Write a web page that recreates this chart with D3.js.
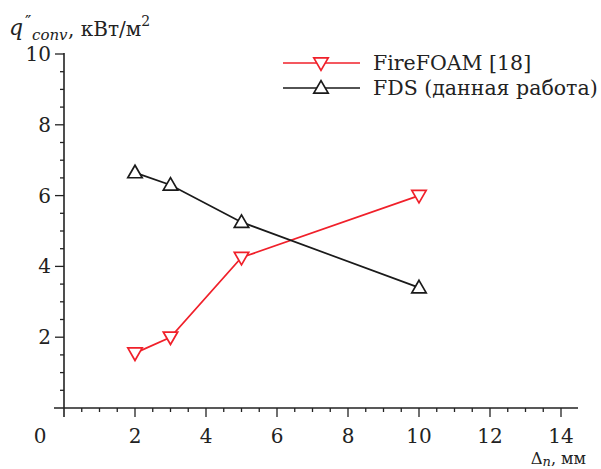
<!DOCTYPE html>
<html>
<head>
<meta charset="utf-8">
<script src="https://cdn.jsdelivr.net/npm/d3@7"></script>
<style>
  html, body { margin: 0; padding: 0; background: #fff; }
  svg { display: block; }
</style>
</head>
<body>
<svg id="chart" width="601" height="469" font-family="'DejaVu Serif', serif" fill="#222"></svg>
<script>
// Mesh size, mm
const meshFireFOAM = [2, 3, 5, 10];
const qFireFOAM = [1.55, 2.0, 4.25, 6.0];
const meshFDS = [2, 3, 5, 10];
const qFDS = [6.65, 6.3, 5.25, 3.4];

const xTicks = [2, 4, 6, 8, 10, 12, 14];
const yTicks = [2, 4, 6, 8, 10];
const seriesNames = ["FireFOAM [18]", "FDS (данная работа)"];

const svg = d3.select("#chart");
const x = d3.scaleLinear().domain([0, 14]).range([64, 561]);
const y = d3.scaleLinear().domain([0, 10]).range([408, 54]);

const ax = svg.append("g").attr("stroke", "#222").attr("fill", "none");

// axis lines
ax.append("line").attr("x1", 54).attr("x2", 578).attr("y1", y(0)).attr("y2", y(0)).attr("stroke-width", 1.6);
ax.append("line").attr("x1", x(0)).attr("x2", x(0)).attr("y1", y(10) - 1).attr("y2", y(0) + 9).attr("stroke-width", 1.6);

// x ticks (major + minor every 0.5)
d3.range(0.5, 14.01, 0.5).forEach(v => {
  const major = Math.abs(v % 2) < 1e-9;
  ax.append("line").attr("x1", x(v)).attr("x2", x(v))
    .attr("y1", y(0)).attr("y2", y(0) + (major ? 9 : 4)).attr("stroke-width", 1.3);
});
// y ticks
d3.range(0.5, 10.01, 0.5).forEach(v => {
  const major = Math.abs(v % 2) < 1e-9;
  ax.append("line").attr("x1", x(0) - (major ? 9 : 4)).attr("x2", x(0))
    .attr("y1", y(v)).attr("y2", y(v)).attr("stroke-width", 1.3);
});

// tick labels
svg.append("g").selectAll("text").data(xTicks).join("text")
  .attr("x", d => x(d)).attr("y", 443).attr("text-anchor", "middle")
  .attr("font-size", 20).text(d => d);
svg.append("text").attr("x", 40).attr("y", 443).attr("text-anchor", "middle")
  .attr("font-size", 20).text("0");
svg.append("g").selectAll("text").data(yTicks).join("text")
  .attr("x", 51).attr("y", d => y(d) + 7).attr("text-anchor", "end")
  .attr("font-size", 20).text(d => d);

// y axis title: q'' with subscript "conv", units
svg.append("text").attr("x", 9).attr("y", 35).attr("font-size", 22)
  .attr("font-style", "italic").text("q");
svg.append("text").attr("x", 25).attr("y", 27).attr("font-size", 17).text("″");
svg.append("text").attr("x", 32).attr("y", 40).attr("font-size", 15)
  .attr("font-style", "italic").text("conv");
const yt = svg.append("text").attr("x", 68).attr("y", 36).attr("font-size", 20);
yt.append("tspan").text(", кВт/м");
yt.append("tspan").attr("font-size", 14).attr("dy", -10).text("2");

// x axis title
const xt = svg.append("text").attr("x", 586).attr("y", 464).attr("text-anchor", "end").attr("font-size", 16.5);
xt.append("tspan").text("Δ");
xt.append("tspan").attr("font-style", "italic").attr("font-size", 13).attr("dy", 1.5).text("n");
xt.append("tspan").attr("dy", -1.5).attr("font-size", 16).text(", мм");

// series
const line = d3.line().x(d => x(d[0])).y(d => y(d[1]));
const tri = d3.symbol().type(d3.symbolTriangle).size(90);

function drawSeries(xs, ys, color, down) {
  const pts = xs.map((v, i) => [v, ys[i]]);
  svg.append("path").datum(pts).attr("d", line)
    .attr("fill", "none").attr("stroke", color).attr("stroke-width", 1.7);
  svg.append("g").selectAll("path").data(pts).join("path")
    .attr("d", tri)
    .attr("transform", d => `translate(${x(d[0])},${y(d[1]) + (down ? -1 : 1)}) rotate(${down ? 180 : 0})`)
    .attr("fill", "#fff").attr("stroke", color).attr("stroke-width", 1.7);
}
drawSeries(meshFireFOAM, qFireFOAM, "#f0202a", true);
drawSeries(meshFDS, qFDS, "#1a1a1a", false);

// legend
const legend = [
  { name: seriesNames[0], color: "#f0202a", down: true, y: 63 },
  { name: seriesNames[1], color: "#1a1a1a", down: false, y: 88 }
];
legend.forEach(l => {
  svg.append("line").attr("x1", 283).attr("x2", 360).attr("y1", l.y).attr("y2", l.y)
    .attr("stroke", l.color).attr("stroke-width", 1.7);
  svg.append("path").attr("d", tri)
    .attr("transform", `translate(321,${l.y + (l.down ? -1 : 1)}) rotate(${l.down ? 180 : 0})`)
    .attr("fill", "#fff").attr("stroke", l.color).attr("stroke-width", 1.7);
  svg.append("text").attr("x", 373).attr("y", l.y + 7).attr("font-size", 20.5).text(l.name);
});
</script>
</body>
</html>
